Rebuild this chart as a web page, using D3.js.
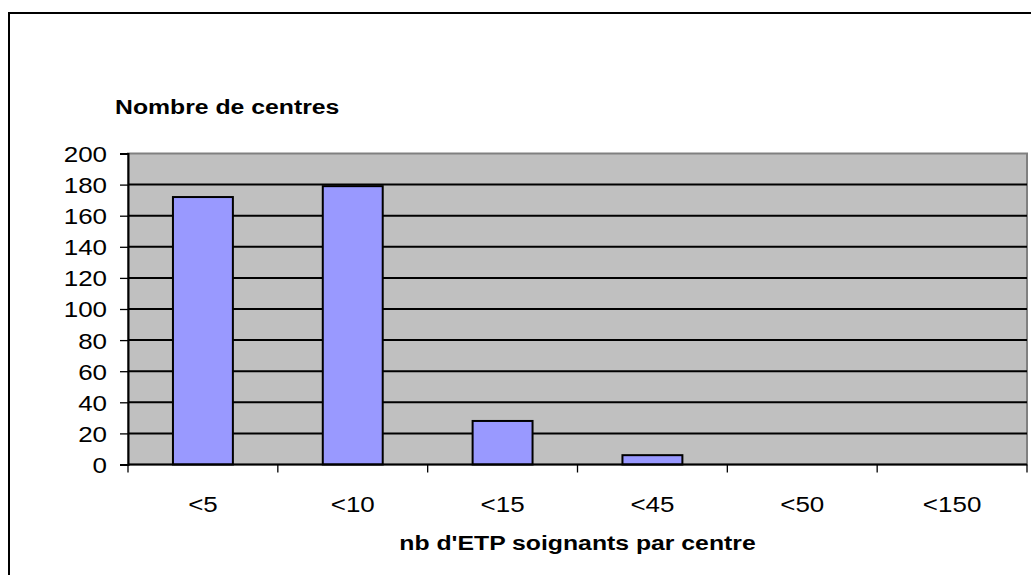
<!DOCTYPE html>
<html>
<head>
<meta charset="utf-8">
<script src="https://cdnjs.cloudflare.com/ajax/libs/d3/7.8.5/d3.min.js"></script>
<style>
  html, body { margin: 0; padding: 0; background: #fff; }
  svg { display: block; font-family: 'Liberation Sans', Arial, sans-serif; }
</style>
</head>
<body>
<svg id="chart" width="1031" height="575"></svg>
<script>
  // Data
  const categories = ['<5', '<10', '<15', '<45', '<50', '<150'];
  const counts = [172, 179, 28, 6, 0, 0];
  const yTicks = [0, 20, 40, 60, 80, 100, 120, 140, 160, 180, 200];
  const yTitle = 'Nombre de centres';
  const xTitle = "nb d'ETP soignants par centre";

  const plot = {left: 128, right: 1027, top: 153.5, bottom: 464.5};
  const stretch = 1.18; // text in the original is widened horizontally

  const svg = d3.select('#chart');

  // outer chart frame
  svg.append('rect')
    .attr('x', 9).attr('y', 13)
    .attr('width', 1100).attr('height', 700)
    .attr('fill', 'none')
    .attr('stroke', '#000')
    .attr('stroke-width', 2);

  const x = d3.scaleBand()
    .domain(categories)
    .range([plot.left, plot.right]);

  const y = d3.scaleLinear()
    .domain([0, 200])
    .range([plot.bottom, plot.top]);

  // plot area
  svg.append('rect')
    .attr('x', plot.left).attr('y', plot.top)
    .attr('width', plot.right - plot.left)
    .attr('height', plot.bottom - plot.top)
    .attr('fill', '#c0c0c0')
    .attr('stroke', '#808080')
    .attr('stroke-width', 2);

  // gridlines
  svg.append('g')
    .selectAll('line')
    .data(yTicks.filter(d => d > 0 && d < 200))
    .enter().append('line')
    .attr('x1', plot.left).attr('x2', plot.right)
    .attr('y1', d => y(d)).attr('y2', d => y(d))
    .attr('stroke', '#000')
    .attr('stroke-width', 2);

  // bars (40% of the category width)
  const barW = x.bandwidth() * 0.4;
  svg.append('g')
    .selectAll('rect')
    .data(counts)
    .enter().append('rect')
    .attr('x', (d, i) => x(categories[i]) + (x.bandwidth() - barW) / 2)
    .attr('y', d => y(d))
    .attr('width', barW)
    .attr('height', d => y(0) - y(d))
    .attr('fill', '#9999ff')
    .attr('stroke', '#000')
    .attr('stroke-width', 2)
    .style('display', d => d > 0 ? null : 'none');

  // y axis
  const yAxis = d3.axisLeft(y)
    .tickValues(yTicks)
    .tickSize(8)
    .tickPadding(13);
  const gy = svg.append('g')
    .attr('transform', 'translate(' + plot.left + ',0)')
    .call(yAxis);
  gy.select('.domain').attr('stroke', '#000').attr('stroke-width', 2);
  gy.selectAll('.tick line').attr('stroke', '#000').attr('stroke-width', 1.3);
  gy.selectAll('.tick text')
    .attr('fill', '#000')
    .style('font-size', '22px')
    .attr('dy', '0.36em')
    .attr('transform', function() {
      const tx = +d3.select(this).attr('x');
      return 'translate(' + tx + ',0) scale(' + stretch + ',1)';
    })
    .attr('x', 0);

  // x axis: ticks on category boundaries
  const gx = svg.append('g')
    .attr('transform', 'translate(0,' + plot.bottom + ')');
  gx.append('line')
    .attr('x1', plot.left).attr('x2', plot.right)
    .attr('stroke', '#000').attr('stroke-width', 2);
  gx.selectAll('.edge')
    .data(categories.concat(['end']))
    .enter().append('line')
    .attr('class', 'edge')
    .attr('x1', (d, i) => i < categories.length ? x(d) : plot.right)
    .attr('x2', (d, i) => i < categories.length ? x(d) : plot.right)
    .attr('y1', 0).attr('y2', 8)
    .attr('stroke', '#000').attr('stroke-width', 1.3);
  gx.selectAll('.lbl')
    .data(categories)
    .enter().append('text')
    .attr('class', 'lbl')
    .attr('transform', d => 'translate(' + (x(d) + x.bandwidth() / 2) + ',47.5) scale(' + stretch + ',1)')
    .attr('text-anchor', 'middle')
    .style('font-size', '22px')
    .text(d => d);

  // titles
  svg.append('text')
    .attr('transform', 'translate(115,114) scale(' + stretch + ',1)')
    .style('font-size', '21px')
    .style('font-weight', 'bold')
    .text(yTitle);

  svg.append('text')
    .attr('transform', 'translate(' + ((plot.left + plot.right) / 2) + ',550) scale(' + stretch + ',1)')
    .attr('text-anchor', 'middle')
    .style('font-size', '21px')
    .style('font-weight', 'bold')
    .text(xTitle);
</script>
</body>
</html>
